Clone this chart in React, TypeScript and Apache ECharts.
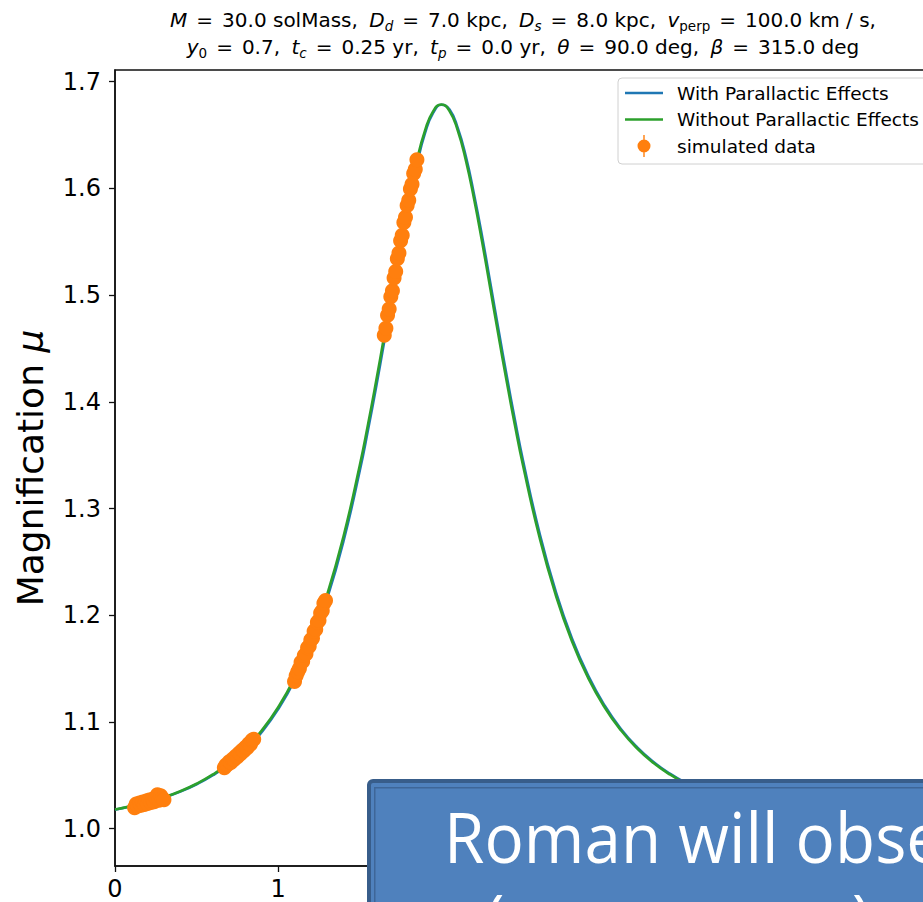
import { useEffect, useRef } from "react";
import * as echarts from "echarts";

// Time grid (x) for the model light curves, denser around the peak
const tGrid = [
  0.0, 0.1, 0.2, 0.3, 0.4, 0.5, 0.6, 0.7, 0.8, 0.9,
  1.0, 1.1, 1.2, 1.3, 1.4, 1.5, 1.55, 1.6, 1.65, 1.7, 1.75, 1.8, 1.85, 1.9, 1.95,
  2.0, 2.05, 2.1, 2.15, 2.2, 2.25, 2.3, 2.35, 2.4, 2.45, 2.5, 2.6, 2.7, 2.8, 2.9,
  3.0, 3.1, 3.2, 3.3, 3.4, 3.5, 3.6, 3.7, 3.8, 3.9,
  4.0, 4.1, 4.2, 4.3, 4.4, 4.5, 4.6, 4.7, 4.8, 4.9, 5.0,
];

// Magnification including parallax
const muWithParallax = [
  1.0177, 1.0209, 1.0245, 1.0291, 1.0347, 1.0416, 1.0501, 1.0607, 1.074, 1.0907,
  1.112, 1.1389, 1.1728, 1.2158, 1.2695, 1.3356, 1.3735, 1.414, 1.4568, 1.5008, 1.5444, 1.5861, 1.6226, 1.652, 1.671,
  1.6785, 1.674, 1.6566, 1.6298, 1.5943, 1.5546, 1.5111, 1.4674, 1.4244, 1.3835, 1.3451, 1.2777, 1.2225, 1.1782, 1.1432,
  1.1154, 1.0934, 1.0761, 1.0624, 1.0515, 1.0426, 1.0355, 1.0297, 1.025, 1.0213,
  1.0181, 1.0156, 1.0133, 1.0115, 1.01, 1.0087, 1.0076, 1.0067, 1.0059, 1.0053, 1.0047,
];

// Magnification without parallax
const muWithoutParallax = [
  1.0179, 1.0211, 1.0248, 1.0294, 1.0351, 1.0421, 1.0508, 1.0616, 1.0751, 1.0922,
  1.1138, 1.1411, 1.1756, 1.2193, 1.2738, 1.3405, 1.3785, 1.4193, 1.4621, 1.506, 1.5495, 1.5903, 1.6262, 1.6544, 1.6725,
  1.6787, 1.6725, 1.6544, 1.6262, 1.5903, 1.5495, 1.506, 1.4621, 1.4193, 1.3785, 1.3405, 1.2738, 1.2193, 1.1756, 1.1411,
  1.1138, 1.0922, 1.0751, 1.0616, 1.0508, 1.0421, 1.0351, 1.0294, 1.0248, 1.0211,
  1.0179, 1.0154, 1.0132, 1.0114, 1.0099, 1.0086, 1.0075, 1.0066, 1.0058, 1.0052, 1.0046,
];

// Simulated observations (four observing seasons)
const simT = [
  0.12, 0.13, 0.14, 0.15, 0.16, 0.17, 0.18, 0.19, 0.2, 0.21, 0.22, 0.23, 0.24, 0.25, 0.26, 0.27, 0.28, 0.29, 0.3,
  0.67, 0.68, 0.69, 0.7, 0.71, 0.72, 0.73, 0.74, 0.75, 0.76, 0.77, 0.78, 0.79, 0.8, 0.81, 0.82, 0.83, 0.84, 0.85,
  1.1, 1.11, 1.12, 1.13, 1.14, 1.15, 1.16, 1.17, 1.18, 1.19, 1.2, 1.21, 1.22, 1.23, 1.24, 1.25, 1.26, 1.27, 1.28, 1.29,
  1.65, 1.66, 1.67, 1.68, 1.69, 1.7, 1.71, 1.72, 1.73, 1.74, 1.75, 1.76, 1.77, 1.78, 1.79, 1.8, 1.81, 1.82, 1.83, 1.84, 1.85,
];
const simMu = [
  1.0196, 1.0232, 1.0212, 1.0241, 1.0219, 1.025, 1.0226, 1.0258, 1.0236, 1.0268, 1.0245, 1.0276, 1.0252, 1.029, 1.0318, 1.0266, 1.0308, 1.0281, 1.0272,
  1.0571, 1.0597, 1.0601, 1.0628, 1.0621, 1.0651, 1.0648, 1.0679, 1.0674, 1.0707, 1.0701, 1.0736, 1.0729, 1.0764, 1.0758, 1.0796, 1.0792, 1.0829, 1.0838,
  1.138, 1.1432, 1.147, 1.1502, 1.156, 1.1566, 1.1622, 1.1638, 1.1695, 1.171, 1.1768, 1.1785, 1.1851, 1.1866, 1.1935, 1.1951, 1.202, 1.2041, 1.2112, 1.2138,
  1.4625, 1.469, 1.4812, 1.487, 1.4985, 1.5042, 1.516, 1.5221, 1.534, 1.5395, 1.551, 1.5562, 1.568, 1.5731, 1.584, 1.589, 1.5995, 1.604, 1.6139, 1.618, 1.6268,
];

const xTicks = [0, 1, 2, 3, 4, 5];
// tick labels left uncovered by the callout box
const xTickLabels = [0, 1];
const yTicks = [1.0, 1.1, 1.2, 1.3, 1.4, 1.5, 1.6, 1.7];

const FONT = "'DejaVu Sans', sans-serif";
const SLIDE_FONT = "'Open Sans', 'Noto Sans', sans-serif";

// errorbar-style legend glyph: vertical bar through a filled dot
const ERRORBAR_ICON =
  "path://M6.3,0H7.7V22H6.3Z M0.5,11A6.5,6.5 0 1,1 13.5,11A6.5,6.5 0 1,1 0.5,11Z";
// plain line segment for the curve entries
const LINE_ICON = "path://M0,0H38V2.6H0Z";

const TS = 20;
const SUB = 13.5;
const titleRich = {
  n: { fontSize: TS, fontFamily: FONT, fill: "#000" },
  i: { fontStyle: "italic", fontSize: TS, fontFamily: FONT, fill: "#000" },
  eq: { fontSize: TS, fontFamily: FONT, fill: "#000", padding: [0, 9, 0, 9] },
  c: { fontSize: TS, fontFamily: FONT, fill: "#000", padding: [0, 5, 0, 0] },
  si: { fontStyle: "italic", fontSize: SUB, fontFamily: FONT, fill: "#000", padding: [12, 0, 0, 0] },
  sr: { fontSize: SUB, fontFamily: FONT, fill: "#000", padding: [12, 0, 0, 0] },
};

const titleLine1 =
  "{i|M}{eq|=}{n|30.0 solMass}{c|,}{n| }{i|D}{si|d}{eq|=}{n|7.0 kpc}{c|,}{n| }{i|D}{si|s}{eq|=}{n|8.0 kpc}{c|,}{n| }{i|v}{sr|perp}{eq|=}{n|100.0 km / s,}";
const titleLine2 =
  "{i|y}{sr|0}{eq|=}{n|0.7}{c|,}{n| }{i|t}{si|c}{eq|=}{n|0.25 yr}{c|,}{n| }{i|t}{si|p}{eq|=}{n|0.0 yr}{c|,}{n| }{i|θ}{eq|=}{n|90.0 deg}{c|,}{n| }{i|β}{eq|=}{n|315.0 deg}";

function pairs(xs: number[], ys: number[]) {
  return xs.map((x, i) => [x, ys[i]]);
}

export default function App() {
  const ref = useRef<HTMLDivElement>(null);

  useEffect(() => {
    if (!ref.current) return;
    const chart = echarts.init(ref.current, null, { renderer: "svg" });

    chart.setOption({
      animation: false,
      backgroundColor: "#ffffff",
      textStyle: { fontFamily: FONT },
      grid: {
        left: 115,
        top: 70,
        width: 816,
        height: 796,
        show: true,
        borderColor: "#111",
        borderWidth: 1.5,
        backgroundColor: "transparent",
      },
      xAxis: {
        type: "value",
        min: 0,
        max: 5,
        splitLine: { show: false },
        axisLine: { onZero: false, lineStyle: { color: "#111", width: 1.5 } },
        axisTick: { length: 6, customValues: xTicks, lineStyle: { color: "#111", width: 1.3 } },
        axisLabel: {
          customValues: xTickLabels,
          margin: 11,
          fontSize: 24,
          color: "#000",
          fontFamily: FONT,
          formatter: (v: number) => String(v),
        },
      },
      yAxis: {
        type: "value",
        min: 0.965,
        max: 1.711,
        splitLine: { show: false },
        axisLine: { onZero: false, lineStyle: { color: "#111", width: 1.5 } },
        axisTick: { length: 6, customValues: yTicks, lineStyle: { color: "#111", width: 1.3 } },
        axisLabel: {
          customValues: yTicks,
          margin: 14,
          fontSize: 24,
          color: "#000",
          fontFamily: FONT,
          formatter: (v: number) => v.toFixed(1),
        },
        name: "Magnification {i|μ}",
        nameLocation: "middle",
        nameRotate: 90,
        nameGap: 67,
        nameTextStyle: {
          fontSize: 36,
          color: "#000",
          fontFamily: FONT,
          rich: { i: { fontStyle: "italic", fontSize: 36, color: "#000", fontFamily: FONT } },
        },
      },
      legend: {
        orient: "vertical",
        left: 618,
        top: 78,
        padding: [4, 24, 7, 7],
        itemWidth: 38,
        itemHeight: 22,
        itemGap: 4.5,
        symbolKeepAspect: true,
        borderColor: "#d0d0d0",
        borderWidth: 1,
        borderRadius: 4,
        backgroundColor: "rgba(255,255,255,0.8)",
        textStyle: {
          fontSize: 18.5,
          lineHeight: 22,
          color: "#000",
          fontFamily: FONT,
          padding: [0, 0, 0, 9],
        },
        data: [
          { name: "With Parallactic Effects", icon: LINE_ICON },
          { name: "Without Parallactic Effects", icon: LINE_ICON },
          { name: "simulated data", icon: ERRORBAR_ICON },
        ],
      },
      series: [
        {
          name: "With Parallactic Effects",
          type: "line",
          data: pairs(tGrid, muWithParallax),
          smooth: true,
          symbol: "none",
          color: "#1f77b4",
          lineStyle: { width: 2.6, color: "#1f77b4" },
          z: 2,
        },
        {
          name: "Without Parallactic Effects",
          type: "line",
          data: pairs(tGrid, muWithoutParallax),
          smooth: true,
          symbol: "none",
          color: "#2ca02c",
          lineStyle: { width: 2.6, color: "#2ca02c" },
          z: 3,
        },
        {
          name: "simulated data",
          type: "scatter",
          data: pairs(simT, simMu),
          symbol: "circle",
          symbolSize: 15,
          itemStyle: { color: "#ff7f0e", opacity: 1 },
          z: 4,
        },
      ],
      graphic: [
        {
          type: "text",
          x: 523,
          y: 20,
          style: {
            text: titleLine1,
            rich: titleRich,
            fontSize: TS,
            fontFamily: FONT,
            fill: "#000",
            align: "center",
            verticalAlign: "middle",
          },
        },
        {
          type: "text",
          x: 523,
          y: 47,
          style: {
            text: titleLine2,
            rich: titleRich,
            fontSize: TS,
            fontFamily: FONT,
            fill: "#000",
            align: "center",
            verticalAlign: "middle",
          },
        },
        // callout box laid over the lower right of the plot
        {
          type: "rect",
          z: 100,
          shape: { x: 369, y: 781, width: 620, height: 200, r: 4 },
          style: { fill: "#4F81BD", stroke: "#385D8A", lineWidth: 4 },
        },
        {
          type: "rect",
          z: 101,
          shape: { x: 374.75, y: 787.75, width: 620, height: 200 },
          style: { fill: "none", stroke: "#3E6698", lineWidth: 1.5 },
        },
        {
          type: "text",
          z: 102,
          x: 444,
          y: 836,
          scaleX: 0.95,
          style: {
            text: "Roman will observe",
            fontFamily: SLIDE_FONT,
            fontSize: 69,
            fill: "#ffffff",
            align: "left",
            verticalAlign: "middle",
          },
        },
        {
          type: "text",
          z: 102,
          x: 485,
          y: 918,
          scaleX: 0.95,
          style: { text: "(", fontFamily: SLIDE_FONT, fontSize: 69, fill: "#ffffff", align: "left", verticalAlign: "middle" },
        },
        {
          type: "text",
          z: 102,
          x: 852,
          y: 918,
          scaleX: 0.95,
          style: { text: ")", fontFamily: SLIDE_FONT, fontSize: 69, fill: "#ffffff", align: "left", verticalAlign: "middle" },
        },
      ],
    });

    return () => chart.dispose();
  }, []);

  return (
    <div
      style={{
        position: "fixed",
        left: 0,
        top: 0,
        width: 923,
        height: 902,
        overflow: "hidden",
        background: "#ffffff",
      }}
    >
      <div ref={ref} style={{ width: 940, height: 902 }} />
    </div>
  );
}
